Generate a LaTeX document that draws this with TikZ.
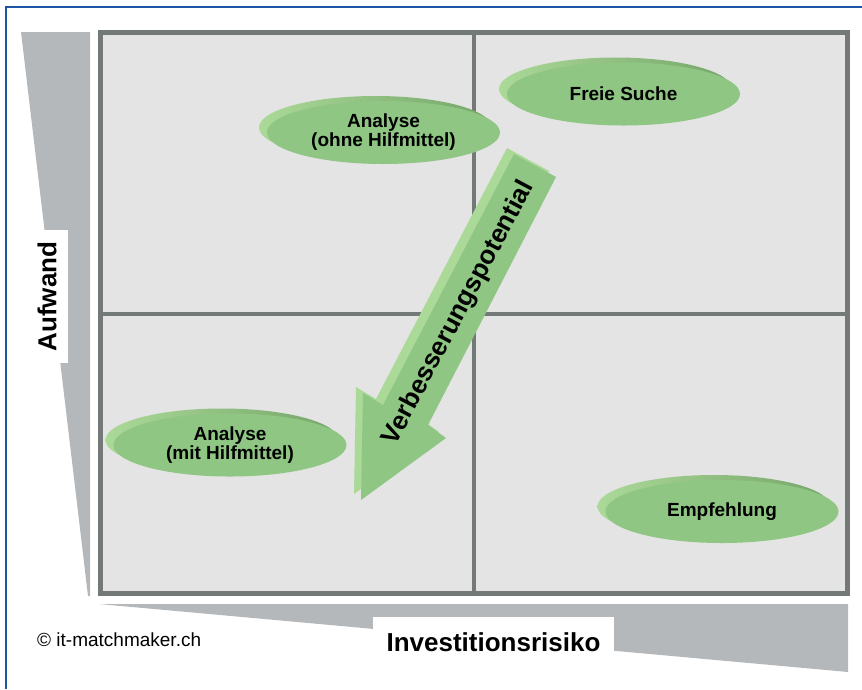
\documentclass[tikz,border=0pt]{standalone}
\usepackage{fontspec}
\setmainfont{Liberation Sans}
\usepackage{tikz}
\usetikzlibrary{shapes.geometric}

\definecolor{framegrey}{RGB}{115,121,119}
\definecolor{fieldgrey}{RGB}{227,228,227}
\definecolor{wedgegrey}{RGB}{181,184,186}
\definecolor{discgreen}{RGB}{143,198,131}
\definecolor{rimlight}{RGB}{170,217,152}
\definecolor{rimdark}{RGB}{118,165,106}
\definecolor{edgeblue}{RGB}{28,84,166}

\begin{document}
\begin{tikzpicture}[x=1pt,y=-1pt,
disc/.style={ellipse, fill=discgreen, minimum width=233pt, minimum height=63pt, inner sep=0pt, align=center,
  font=\bfseries\fontsize{19}{19}\selectfont,
  preaction={left color=rimlight, right color=rimdark, transform canvas={shift={(-8pt,5pt)}}}},
axisbox/.style={fill=white, inner sep=0pt, font=\bfseries\fontsize{26}{26}\selectfont},
]
\useasboundingbox (0,0) rectangle (862,689);

\draw[edgeblue, line width=2.2pt] (6,689) -- (6,7) -- (862,7);

% axis wedges
\fill[wedgegrey] (21,32) -- (90,32) -- (90,596) -- (88,596) -- cycle;
\fill[wedgegrey] (99,604) -- (848,604) -- (848,672) -- cycle;

% quadrants
\filldraw[fill=fieldgrey, draw=framegrey, line width=5pt] (100,32.5) rectangle (847.5,593.5);
\draw[framegrey, line width=4pt] (473.5,32.5) -- (473.5,593.5) (100,313.5) -- (847.5,313.5);

\node[disc] (ohne) at (383.5,132.5) {Analyse\\(ohne Hilfmittel)};
\node[disc] (frei) at (623.5,94) {Freie Suche};
\node[disc] (mit) at (230,445) {Analyse\\(mit Hilfmittel)};
\node[disc] (empf) at (722,511.5) {Empfehlung};

% block arrow with its side face
\foreach \dx/\dy/\col in {-7/-6/rimlight, 0/0/discgreen}
  \fill[\col, shift={(\dx,\dy)}] (514,154) -- (556,177) -- (428,425) -- (446,438) -- (361,500) -- (363,393) -- (383,405) -- cycle;
\node[rotate=62, font=\bfseries\fontsize{26}{26}\selectfont] (potential) at (459,313) {Verbesserungspotential};

\node[axisbox, rotate=90, minimum width=133pt, minimum height=42pt] (aufwand) at (47,296.5) {Aufwand};
\node[axisbox, minimum width=241pt, minimum height=50pt] (risiko) at (493.5,642) {Investitionsrisiko};
\node[anchor=west, inner sep=0pt, font=\fontsize{19}{19}\selectfont] (copy) at (37,640) {© it-matchmaker.ch};
\end{tikzpicture}
\end{document}
